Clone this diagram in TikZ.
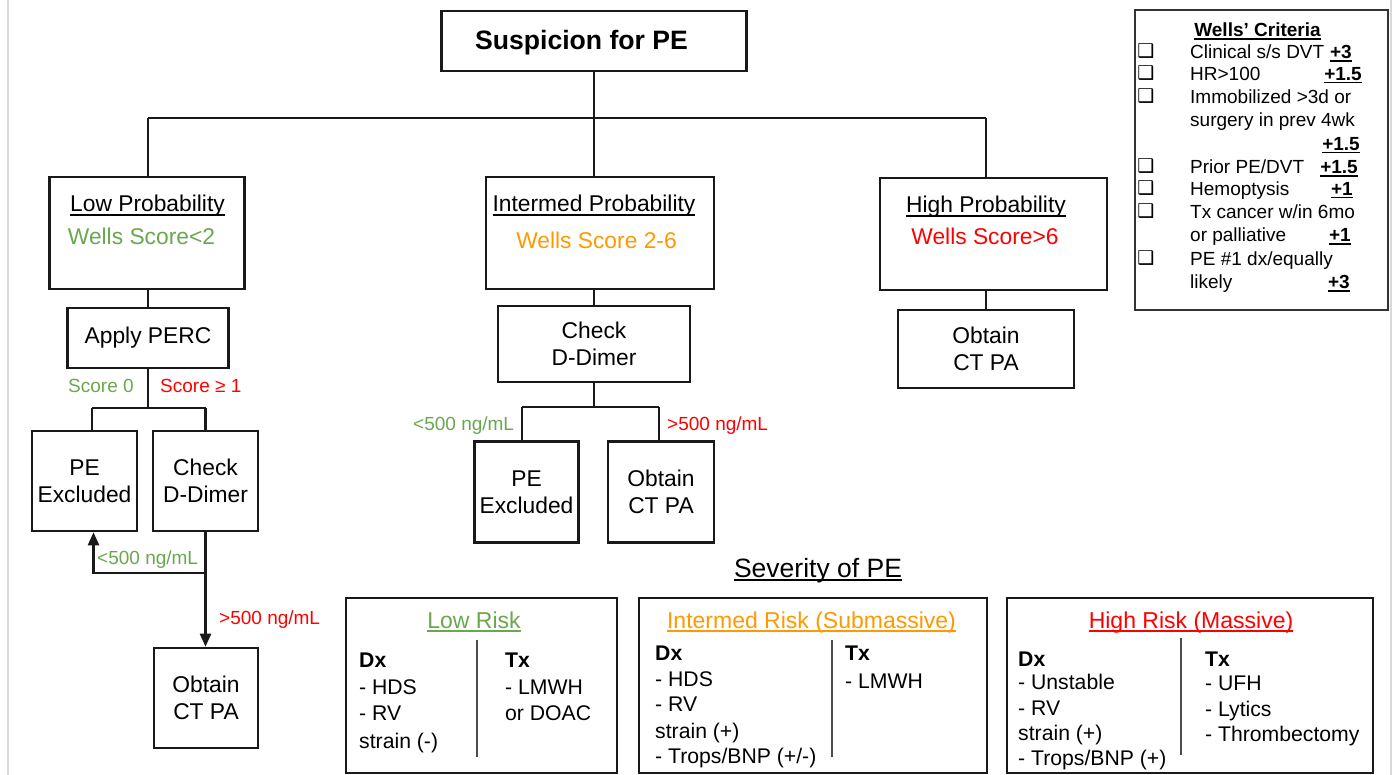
\documentclass[tikz,border=0pt]{standalone}
\usepackage{fontspec}
\setmainfont{Liberation Sans}
\newfontfamily\symfont{DejaVu Sans}
\usetikzlibrary{arrows.meta}
\definecolor{gr}{RGB}{106,168,79}
\definecolor{org}{RGB}{255,153,0}
\definecolor{rd}{RGB}{255,0,0}
\definecolor{edge}{RGB}{25,25,25}
\newcommand\fmain{\fontsize{22.8}{27}\selectfont}
\newcommand\fbig{\fontsize{26.6}{31}\selectfont\bfseries}
\newcommand\flab{\fontsize{19}{23}\selectfont}
\newcommand\fwell{\fontsize{19}{22}\selectfont}
\newcommand\fbot{\fontsize{21.2}{26}\selectfont}
\newcommand\fbott{\fontsize{23}{27}\selectfont}
\newcommand\fsev{\fontsize{26.5}{31}\selectfont}
\newsavebox\ulbx
\newcommand\ulin[3]{\sbox\ulbx{#3}\rlap{\rule[-#1]{\wd\ulbx}{#2}}\usebox\ulbx}
\tikzset{
  box/.style={draw=edge, line width=2.6pt, inner sep=0pt, align=center, font=\fmain},
  conn/.style={draw=edge, line width=2.4pt},
  arr/.style={conn, -{Triangle[length=13pt,width=11pt]}},
  lab/.style={inner sep=0pt, font=\flab, anchor=base west},
  txt/.style={inner sep=0pt, font=\fmain, anchor=base},
  wl/.style={inner sep=0pt, font=\fwell, anchor=base west},
  ws/.style={inner sep=0pt, font=\fwell\bfseries, anchor=base east},
  ck/.style={inner sep=0pt, font=\symfont\fontsize{19}{19}\selectfont, anchor=base},
  bl/.style={inner sep=0pt, font=\fbot, anchor=base west},
  rbox/.style={draw=edge, line width=2.4pt, inner sep=0pt},
  divl/.style={draw=black!70, line width=2pt},
}
\begin{document}
\begin{tikzpicture}[x=1pt,y=-1pt]
\useasboundingbox (0,0) rectangle (1393,775);
\fill[white] (0,0) rectangle (1393,775);
\coordinate (pl0) at (8,0); \coordinate (pl1) at (8,775);
\coordinate (pr0) at (1391,0); \coordinate (pr1) at (1391,775);
\draw[black!15, line width=1.5pt] (pl0) -- (pl1);
\draw[black!15, line width=1.5pt] (pr0) -- (pr1);

% top
\node[box, minimum width=305, minimum height=60] (sus) at (594,41) {};
\node[txt, font=\fbig] (sust) at (581.5,50) {Suspicion for PE};

\node[box, minimum width=195, minimum height=112] (low) at (147,233) {};
\node[box, minimum width=228, minimum height=112] (mid) at (600,233) {};
\node[box, minimum width=227, minimum height=112] (high) at (993.5,234) {};
\node[txt] (lowt) at (147.5,212) {\ulin{4pt}{2.2pt}{Low Probability}};
\node[txt, text=gr] (loww) at (141.5,245) {Wells Score<2};
\node[txt] (midt) at (594,212) {\ulin{4pt}{2.2pt}{Intermed Probability}};
\node[txt, text=org] (midw) at (596.5,249) {Wells Score 2-6};
\node[txt] (hight) at (986,213) {\ulin{4pt}{2.2pt}{High Probability}};
\node[txt, text=rd] (highw) at (985,245) {Wells Score>6};

\coordinate (jl) at (148,118);
\coordinate (jm) at (594,118);
\coordinate (jr) at (986,118);
\draw[conn] (sus.south -| jm) -- (mid.north -| jm);
\draw[conn] (jl) -- (jr);
\draw[conn] (jl) -- (jl |- low.north);
\draw[conn] (jr) -- (jr |- high.north);

% low branch
\node[box, minimum width=161, minimum height=60] (perc) at (148,338) {Apply PERC};
\draw[conn] (low.south -| jl) -- (perc.north);
\node[box, minimum width=105, minimum height=100] (pe1) at (84.5,481) {PE\\Excluded};
\node[box, minimum width=105, minimum height=100] (dd1) at (205.5,481) {Check\\D-Dimer};
\node[box, minimum width=104, minimum height=100] (ct1) at (206,698) {Obtain\\CT PA};
\coordinate (jp) at (148,408);
\coordinate (jpl) at (92,408);
\coordinate (jpr) at (205.5,408);
\draw[conn] (perc.south) -- (jp);
\draw[conn] (jpl) -- (jpr);
\draw[conn] (jpl) -- (jpl |- pe1.north);
\draw[conn] (jpr) -- (dd1.north);
\node[lab, text=gr] (s0) at (68,393) {Score 0};
\node[lab, text=rd] (s1) at (160,393) {Score ≥ 1};
\coordinate (k) at (205.5,573);
\draw[conn] (dd1.south) -- (k);
\draw[arr] (k) -| ([xshift=9pt]pe1.south);
\draw[arr] (k) -- (k |- ct1.north);
\node[lab, text=gr] (l1) at (97,564) {<500 ng/mL};
\node[lab, text=rd] (g1) at (219,624) {>500 ng/mL};

% intermediate branch
\node[box, minimum width=192, minimum height=76] (dd2) at (594,344) {Check\\D-Dimer};
\draw[conn] (mid.south -| jm) -- (dd2.north);
\node[box, minimum width=104, minimum height=101] (pe2) at (526.5,492) {PE\\Excluded};
\node[box, minimum width=106, minimum height=101] (ct2) at (661,492) {Obtain\\CT PA};
\coordinate (jd) at (594,407);
\coordinate (jdl) at (522,407);
\coordinate (jdr) at (659,407);
\draw[conn] (dd2.south) -- (jd);
\draw[conn] (jdl) -- (jdr);
\draw[conn] (jdl) -- (jdl |- pe2.north);
\draw[conn] (jdr) -- (jdr |- ct2.north);
\node[lab, text=gr] (l2) at (413,431) {<500 ng/mL};
\node[lab, text=rd] (g2) at (667,431) {>500 ng/mL};

% high branch
\node[box, minimum width=176, minimum height=78] (ct3) at (986,349) {Obtain\\CT PA};
\draw[conn] (high.south -| jr) -- (ct3.north);

% Wells criteria
\node[draw=black!80, line width=2pt, minimum width=253, minimum height=300, inner sep=0pt] (wells) at (1261.5,160) {};
\node[inner sep=0pt, font=\fwell\bfseries, anchor=base] (wt) at (1257.5,37) {\ulin{3pt}{1.8pt}{Wells’ Criteria}};
\node[ck] (c1) at (1146,58) {❑};
\node[ck] (c2) at (1146,80) {❑};
\node[ck] (c3) at (1146,103) {❑};
\node[ck] (c6) at (1146,173) {❑};
\node[ck] (c7) at (1146,195) {❑};
\node[ck] (c8) at (1146,218) {❑};
\node[ck] (c10) at (1146,265) {❑};
\node[wl] (w1) at (1190,58.7) {Clinical s/s DVT};
\node[wl] (w2) at (1190,80.3) {HR>100};
\node[wl] (w3) at (1190,103.7) {Immobilized >3d or};
\node[wl] (w4) at (1190,127) {surgery in prev 4wk};
\node[wl] (w6) at (1190,173.7) {Prior PE/DVT};
\node[wl] (w7) at (1190,195.3) {Hemoptysis};
\node[wl] (w8) at (1190,218.7) {Tx cancer w/in 6mo};
\node[wl] (w9) at (1190,242) {or palliative};
\node[wl] (w10) at (1190,265.3) {PE \#1 dx/equally};
\node[wl] (w11) at (1190,288.7) {likely};
\node[ws] (p1) at (1352,58.7) {\ulin{3pt}{1.6pt}{+3}};
\node[ws] (p2) at (1362,80.3) {\ulin{3pt}{1.6pt}{+1.5}};
\node[ws] (p5) at (1360,150.3) {\ulin{3pt}{1.6pt}{+1.5}};
\node[ws] (p6) at (1358,173.7) {\ulin{3pt}{1.6pt}{+1.5}};
\node[ws] (p7) at (1353,195.3) {\ulin{3pt}{1.6pt}{+1}};
\node[ws] (p9) at (1351,242) {\ulin{3pt}{1.6pt}{+1}};
\node[ws] (p11) at (1350,288.7) {\ulin{3pt}{1.6pt}{+3}};

% severity
\node[inner sep=0pt, font=\fsev, anchor=base] (sev) at (818,577) {\ulin{4pt}{2pt}{Severity of PE}};

\node[rbox, minimum width=271, minimum height=175] (rl) at (481.5,685.5) {};
\node[rbox, minimum width=348, minimum height=175] (ri) at (813,685.5) {};
\node[rbox, minimum width=366, minimum height=175] (rh) at (1190,685.5) {};

% low risk
\node[inner sep=0pt, font=\fbott, anchor=base, text=gr] (rlt) at (474,628) {\ulin{4pt}{2.2pt}{Low Risk}};
\coordinate (dl0) at (477,640); \coordinate (dl1) at (477,757);
\draw[divl] (dl0) -- (dl1);
\node[bl, font=\fbot\bfseries] (rl1) at (359,667) {Dx};
\node[bl] (rl2) at (359,694) {- HDS};
\node[bl] (rl3) at (359,720) {- RV};
\node[bl] (rl4) at (359,748) {strain (-)};
\node[bl, font=\fbot\bfseries] (rl5) at (505,667) {Tx};
\node[bl] (rl6) at (505,694) {- LMWH};
\node[bl] (rl7) at (505,720) {or DOAC};

% intermediate risk
\node[inner sep=0pt, font=\fbott, anchor=base, text=org] (rit) at (811.5,628) {\ulin{4pt}{2.2pt}{Intermed Risk (Submassive)}};
\coordinate (di0) at (832,640); \coordinate (di1) at (832,757);
\draw[divl] (di0) -- (di1);
\node[bl, font=\fbot\bfseries] (ri1) at (655,660) {Dx};
\node[bl] (ri2) at (655,686) {- HDS};
\node[bl] (ri3) at (655,711) {- RV};
\node[bl] (ri4) at (655,738) {strain (+)};
\node[bl] (ri5) at (655,763) {- Trops/BNP (+/-)};
\node[bl, font=\fbot\bfseries] (ri6) at (845,660) {Tx};
\node[bl] (ri7) at (845,688) {- LMWH};

% high risk
\node[inner sep=0pt, font=\fbott, anchor=base, text=rd] (rht) at (1191,628) {\ulin{4pt}{2.2pt}{High Risk (Massive)}};
\coordinate (dh0) at (1181,638); \coordinate (dh1) at (1181,755);
\draw[divl] (dh0) -- (dh1);
\node[bl, font=\fbot\bfseries] (rh1) at (1018,666) {Dx};
\node[bl] (rh2) at (1018,689) {- Unstable};
\node[bl] (rh3) at (1018,715) {- RV};
\node[bl] (rh4) at (1018,740) {strain (+)};
\node[bl] (rh5) at (1018,765) {- Trops/BNP (+)};
\node[bl, font=\fbot\bfseries] (rh6) at (1205,666) {Tx};
\node[bl] (rh7) at (1205,690) {- UFH};
\node[bl] (rh8) at (1205,716) {- Lytics};
\node[bl] (rh9) at (1205,741) {- Thrombectomy};
\end{tikzpicture}
\end{document}
